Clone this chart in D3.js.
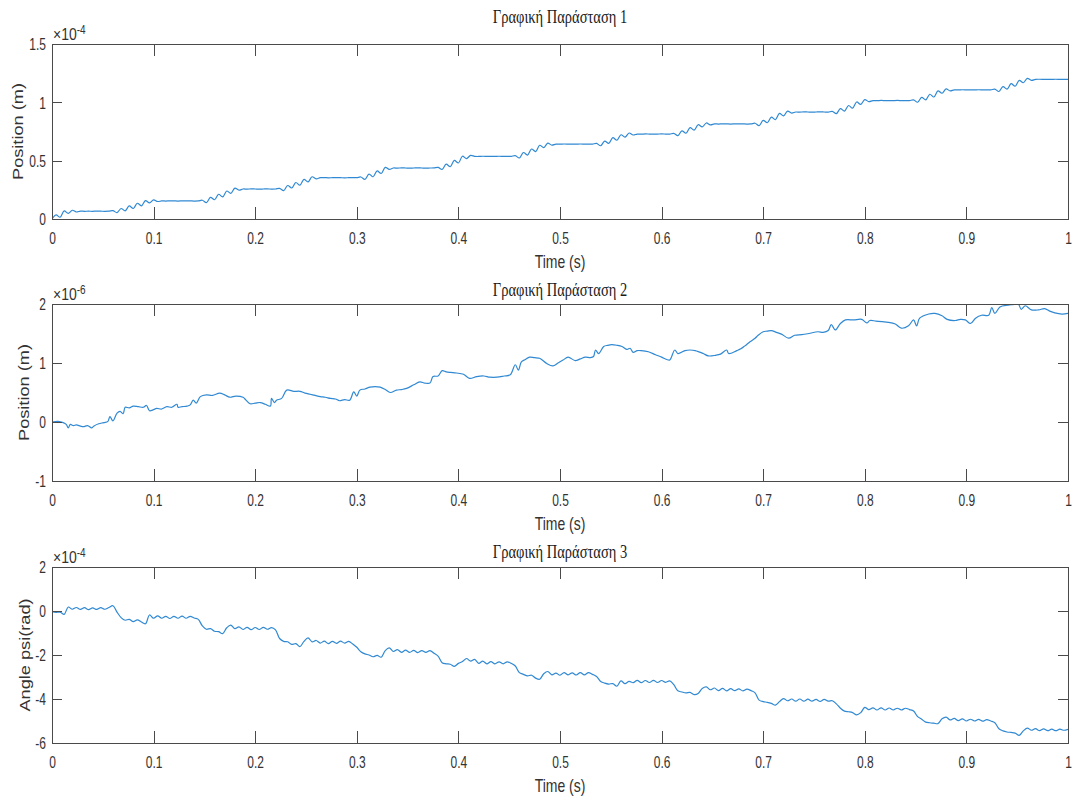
<!DOCTYPE html>
<html><head><meta charset="utf-8">
<script src="https://cdn.jsdelivr.net/npm/d3@7"></script>
<style>body{margin:0;background:#fff}svg{display:block}</style>
</head><body><svg id="c" width="1073" height="803"></svg>
<script>
// ---------------- data ----------------
const titles = ["Γραφική Παράσταση 1", "Γραφική Παράσταση 2", "Γραφική Παράσταση 3"];
const xLabel = "Time (s)";
const yLabels = ["Position (m)", "Position (m)", "Angle psi(rad)"];
const exponents = ["-4", "-6", "-4"];
const xTicks = [0, 0.1, 0.2, 0.3, 0.4, 0.5, 0.6, 0.7, 0.8, 0.9, 1];
const yTicks1 = [0, 0.5, 1, 1.5];
const yTicks2 = [-1, 0, 1, 2];
const yTicks3 = [-6, -4, -2, 0, 2];
const sampleStep = 0.004; // seconds between samples of series 1 and 3

// Position, plot 1 (x10^-4 m), one value every 0.004 s
const position1 = [
 0.000,0.035,0.015,0.070,0.048,0.075,0.060,
 0.068,0.066,0.067,0.066,0.068,0.067,0.066,0.067,
 0.072,0.055,0.090,0.070,0.112,0.090,0.135,0.113,0.158,0.138,0.164,0.150,
 0.155,0.154,0.156,0.155,0.154,0.155,0.156,0.155,0.154,0.155,
 0.161,0.141,0.186,0.165,0.212,0.190,0.240,0.220,0.265,0.247,
 0.257,0.256,0.258,0.257,0.256,0.257,0.258,0.256,0.257,
 0.263,0.243,0.287,0.266,0.313,0.290,0.340,0.318,0.362,0.344,
 0.354,0.355,0.353,0.354,0.355,0.354,0.353,0.354,0.355,0.354,
 0.360,0.340,0.385,0.362,0.412,0.390,0.443,0.425,
 0.437,0.436,0.438,0.437,0.436,0.437,0.438,0.437,0.436,0.437,0.438,
 0.443,0.425,0.470,0.448,0.502,0.480,0.538,0.518,0.545,
 0.537,0.536,0.538,0.537,0.536,0.537,0.538,0.537,0.536,0.537,
 0.543,0.523,0.570,0.548,0.600,0.578,0.632,0.612,0.650,0.633,
 0.642,0.641,0.643,0.642,0.641,0.642,0.643,0.642,0.641,0.642,
 0.648,0.628,0.668,0.648,0.697,0.675,0.722,0.702,0.737,0.720,
 0.728,0.727,0.729,0.728,0.727,0.728,0.729,0.728,0.727,
 0.734,0.714,0.756,0.735,0.783,0.762,0.808,0.789,0.823,0.807,
 0.815,0.814,0.816,0.815,0.814,0.815,0.816,0.815,0.814,0.815,
 0.821,0.801,0.846,0.825,0.873,0.851,0.905,0.884,0.925,0.908,
 0.917,0.916,0.918,0.917,0.916,0.917,0.918,0.917,0.916,
 0.923,0.903,0.946,0.924,0.973,0.950,1.003,0.982,1.023,1.006,
 1.015,1.014,1.016,1.015,1.014,1.015,1.016,1.015,1.014,1.015,
 1.021,1.001,1.043,1.021,1.069,1.046,1.098,1.078,1.115,1.098,
 1.107,1.106,1.108,1.107,1.106,1.107,1.108,1.107,1.106,1.107,
 1.113,1.093,1.135,1.113,1.160,1.138,1.188,1.168,1.206,1.189,
 1.197,1.198,1.197,1.196,1.197,1.198,1.197,1.197,1.197
];

// Position, plot 2 (x10^-6 m), [time s, value]
const position2 = [
 [0,0.00],[.006,0.01],[.011,-0.01],[.014,-0.04],[.016,-0.10],[.018,-0.04],[.021,-0.06],[.024,-0.05],
 [.028,-0.07],[.031,-0.08],[.035,-0.06],[.039,-0.10],[.041,-0.07],[.046,-0.03],[.051,-0.01],[.055,0.01],
 [.057,0.09],[.060,0.02],[.064,0.15],[.067,0.18],[.070,0.14],[.072,0.25],[.076,0.24],[.080,0.27],
 [.085,0.26],[.090,0.25],[.093,0.28],[.096,0.19],[.100,0.21],[.103,0.23],[.108,0.22],[.113,0.26],
 [.118,0.25],[.123,0.30],[.124,0.25],[.128,0.26],[.133,0.27],[.136,0.29],[.139,0.37],[.142,0.32],
 [.146,0.43],[.152,0.46],[.158,0.45],[.165,0.49],[.170,0.46],[.175,0.42],[.181,0.44],[.188,0.42],
 [.191,0.37],[.195,0.31],[.200,0.32],[.205,0.33],[.210,0.30],[.215,0.27],[.216,0.40],[.219,0.33],
 [.221,0.37],[.226,0.40],[.231,0.54],[.238,0.52],[.244,0.52],[.249,0.49],[.254,0.47],[.259,0.45],
 [.264,0.43],[.269,0.42],[.274,0.40],[.279,0.39],[.283,0.36],[.288,0.38],[.293,0.37],[.297,0.51],
 [.300,0.44],[.303,0.54],[.308,0.56],[.313,0.59],[.318,0.60],[.323,0.59],[.328,0.55],[.333,0.50],
 [.339,0.54],[.344,0.55],[.349,0.57],[.356,0.63],[.362,0.68],[.367,0.66],[.372,0.66],[.375,0.77],
 [.380,0.78],[.384,0.87],[.388,0.85],[.392,0.84],[.398,0.83],[.405,0.81],[.411,0.74],[.418,0.77],
 [.425,0.78],[.431,0.76],[.438,0.76],[.445,0.78],[.451,0.80],[.456,0.97],[.459,0.88],[.462,1.02],
 [.466,1.06],[.470,1.10],[.475,1.09],[.480,1.08],[.487,0.99],[.493,0.95],[.498,1.00],[.503,1.05],
 [.508,1.10],[.515,1.04],[.520,1.07],[.525,1.10],[.530,1.09],[.533,1.11],[.535,1.22],[.538,1.16],
 [.543,1.28],[.547,1.30],[.551,1.31],[.556,1.30],[.561,1.28],[.566,1.23],[.569,1.25],[.572,1.18],
 [.576,1.21],[.580,1.21],[.587,1.19],[.594,1.14],[.600,1.10],[.605,1.06],[.608,1.05],[.613,1.22],
 [.616,1.16],[.623,1.21],[.628,1.22],[.633,1.21],[.641,1.16],[.646,1.12],[.653,1.13],[.658,1.15],
 [.664,1.22],[.666,1.16],[.674,1.21],[.678,1.24],[.682,1.29],[.687,1.36],[.692,1.42],[.695,1.47],
 [.700,1.53],[.704,1.54],[.708,1.55],[.713,1.52],[.718,1.49],[.725,1.42],[.731,1.47],[.738,1.48],
 [.745,1.50],[.754,1.53],[.759,1.52],[.764,1.55],[.767,1.65],[.771,1.56],[.776,1.67],[.781,1.73],
 [.789,1.73],[.797,1.74],[.802,1.68],[.805,1.72],[.811,1.71],[.817,1.70],[.823,1.69],[.830,1.66],
 [.836,1.59],[.843,1.63],[.848,1.73],[.851,1.63],[.854,1.76],[.863,1.83],[.869,1.84],[.876,1.80],
 [.881,1.74],[.889,1.72],[.894,1.74],[.899,1.73],[.904,1.67],[.909,1.76],[.915,1.81],[.922,1.81],
 [.925,1.94],[.928,1.84],[.933,1.95],[.941,1.98],[.946,1.99],[.951,2.00],[.954,1.91],[.958,1.97],
 [.964,1.90],[.971,1.90],[.977,1.92],[.982,1.88],[.987,1.85],[.994,1.83],[1.0,1.84]
];

// Angle psi, plot 3 (x10^-4 rad), one value every 0.004 s
const anglePsi3 = [
 -0.03,-0.06,-0.05,-0.15,0.18,0.08,0.16,0.07,0.15,0.06,0.14,0.07,0.15,0.08,0.16,
 0.24,-0.05,-0.30,-0.42,-0.38,-0.48,-0.40,-0.50,-0.58,-0.18,
 -0.33,-0.22,-0.33,-0.24,-0.34,-0.24,-0.33,-0.23,-0.33,-0.24,-0.32,
 -0.38,-0.68,-0.83,-0.80,-0.92,-0.94,-1.03,-0.76,-0.64,
 -0.80,-0.72,-0.84,-0.74,-0.85,-0.75,-0.84,-0.74,-0.83,-0.76,-0.86,
 -1.25,-1.38,-1.40,-1.52,-1.48,-1.62,-1.38,-1.22,
 -1.40,-1.34,-1.46,-1.37,-1.48,-1.38,-1.47,-1.37,-1.46,-1.38,-1.50,
 -1.65,-1.85,-1.95,-2.00,-2.08,-2.02,-2.10,-1.80,-1.68,
 -1.84,-1.76,-1.88,-1.78,-1.88,-1.79,-1.89,-1.80,-1.88,-1.80,-1.92,
 -2.05,-2.35,-2.40,-2.42,-2.52,-2.38,-2.30,-2.16,
 -2.28,-2.20,-2.38,-2.28,-2.40,-2.30,-2.40,-2.31,-2.40,-2.31,-2.38,
 -2.50,-2.80,-2.88,-2.95,-2.92,-3.05,-3.10,-2.85,-2.75,
 -2.90,-2.82,-2.92,-2.80,-2.90,-2.81,-2.91,-2.80,-2.90,-2.80,-2.88,
 -2.98,-3.20,-3.28,-3.32,-3.30,-3.42,-3.18,
 -3.30,-3.20,-3.26,-3.15,-3.26,-3.16,-3.25,-3.15,-3.25,-3.16,-3.24,-3.18,
 -3.35,-3.63,-3.68,-3.72,-3.70,-3.80,-3.75,-3.52,
 -3.45,-3.58,-3.50,-3.62,-3.52,-3.63,-3.53,-3.62,-3.54,-3.63,-3.55,-3.62,
 -3.72,-4.05,-4.12,-4.15,-4.20,-4.28,-4.12,-3.98,
 -4.08,-4.00,-4.10,-4.00,-4.10,-4.01,-4.10,-4.02,-4.11,-4.02,-4.10,-4.08,
 -4.22,-4.42,-4.55,-4.58,-4.62,-4.72,-4.62,-4.38,
 -4.48,-4.40,-4.50,-4.40,-4.50,-4.41,-4.50,-4.42,-4.50,-4.42,-4.48,
 -4.55,-4.80,-4.92,-5.05,-5.08,-5.10,-5.12,-4.90,-4.82,
 -4.95,-4.88,-4.98,-4.90,-5.00,-4.92,-5.00,-4.93,-5.01,-4.94,-5.00,
 -5.08,-5.35,-5.45,-5.50,-5.52,-5.55,-5.65,-5.45,-5.32,
 -5.42,-5.35,-5.44,-5.36,-5.44,-5.37,-5.44,-5.37,-5.42,-5.38
];

// ---------------- drawing ----------------
const svg = d3.select("#c");
const left = 52, right = 1068;
const sansFont = "'Liberation Sans', Arial, Helvetica, sans-serif";
const serifFont = "'Liberation Serif', 'Times New Roman', serif";
const axisColor = "#4a4a4a";
const textColor = "#333";
const lineColor = "#3089d2";

const panels = [
  {top: 44, bottom: 219, domain: [0, 1.5], ticks: yTicks1, titleY: 23, ylabelX: 22.5,
   data: position1.map((v, i) => [i * sampleStep, v])},
  {top: 304, bottom: 481, domain: [-1, 2], ticks: yTicks2, titleY: 296, ylabelX: 29,
   data: position2},
  {top: 567, bottom: 743, domain: [-6, 2], ticks: yTicks3, titleY: 558, ylabelX: 29.5,
   data: anglePsi3.map((v, i) => [i * sampleStep, v])}
];

const fmt = d => String(d);

panels.forEach((p, k) => {
  const x = d3.scaleLinear().domain([0, 1]).range([left, right]);
  const y = d3.scaleLinear().domain(p.domain).range([p.bottom, p.top]);
  const g = svg.append("g");

  const clipId = "clip" + k;
  svg.append("clipPath").attr("id", clipId).append("rect")
    .attr("x", left).attr("y", p.top).attr("width", right - left).attr("height", p.bottom - p.top);

  g.append("path")
    .datum(p.data)
    .attr("clip-path", `url(#${clipId})`)
    .attr("fill", "none")
    .attr("stroke", lineColor)
    .attr("stroke-width", 1.2)
    .attr("stroke-linejoin", "round")
    .attr("d", d3.line().curve(d3.curveCatmullRom.alpha(0.5)).x(d => x(d[0])).y(d => y(d[1])));

  const styleAxis = sel => {
    sel.select(".domain").remove();
    sel.selectAll(".tick line").attr("stroke", axisColor).attr("shape-rendering", "crispEdges");
    sel.selectAll("text").attr("fill", textColor).attr("font-family", sansFont).attr("font-size", 12);
  };

  const bottomAxis = g.append("g").attr("transform", `translate(0,${p.bottom})`)
    .call(d3.axisBottom(x).tickValues(xTicks).tickSize(-12).tickFormat(fmt));
  styleAxis(bottomAxis);
  bottomAxis.selectAll("text").attr("y", 0).attr("dy", null)
    .attr("transform", "translate(0,25) scale(1,1.35)");

  const topAxis = g.append("g").attr("transform", `translate(0,${p.top})`)
    .call(d3.axisTop(x).tickValues(xTicks).tickSize(-12).tickFormat(""));
  styleAxis(topAxis);

  const leftAxis = g.append("g").attr("transform", `translate(${left},0)`)
    .call(d3.axisLeft(y).tickValues(p.ticks).tickSize(-10).tickFormat(fmt));
  styleAxis(leftAxis);
  leftAxis.selectAll("text").attr("x", 0).attr("dy", null)
    .attr("transform", "translate(-6,5.8) scale(1,1.35)");

  const rightAxis = g.append("g").attr("transform", `translate(${right},0)`)
    .call(d3.axisRight(y).tickValues(p.ticks).tickSize(-10).tickFormat(""));
  styleAxis(rightAxis);

  g.append("rect")
    .attr("x", left).attr("y", p.top)
    .attr("width", right - left).attr("height", p.bottom - p.top)
    .attr("fill", "none").attr("stroke", axisColor).attr("stroke-width", 1)
    .attr("shape-rendering", "crispEdges");

  g.append("text")
    .attr("transform", `translate(${(left + right) / 2},${p.titleY}) scale(1,1.3)`)
    .attr("text-anchor", "middle")
    .attr("font-family", serifFont).attr("font-size", 14.5).attr("fill", "#1a1a1a")
    .text(titles[k]);

  g.append("text")
    .attr("transform", `translate(${(left + right) / 2},${p.bottom + 49}) scale(1,1.3)`)
    .attr("text-anchor", "middle")
    .attr("font-family", sansFont).attr("font-size", 14).attr("fill", textColor)
    .text(xLabel);

  g.append("text")
    .attr("transform", `translate(${p.ylabelX},${(p.top + p.bottom) / 2}) rotate(-90) scale(1.3,1)`)
    .attr("text-anchor", "middle")
    .attr("font-family", sansFont).attr("font-size", 14).attr("fill", textColor)
    .text(yLabels[k]);

  const ex = g.append("text")
    .attr("transform", `translate(${left + 1},${p.top - 4}) scale(1,1.2)`)
    .attr("font-family", sansFont).attr("font-size", 14).attr("fill", textColor);
  ex.append("tspan").text("×10");
  ex.append("tspan").attr("font-size", 10).attr("dy", -5).text(exponents[k]);
});
</script>
</body></html>
